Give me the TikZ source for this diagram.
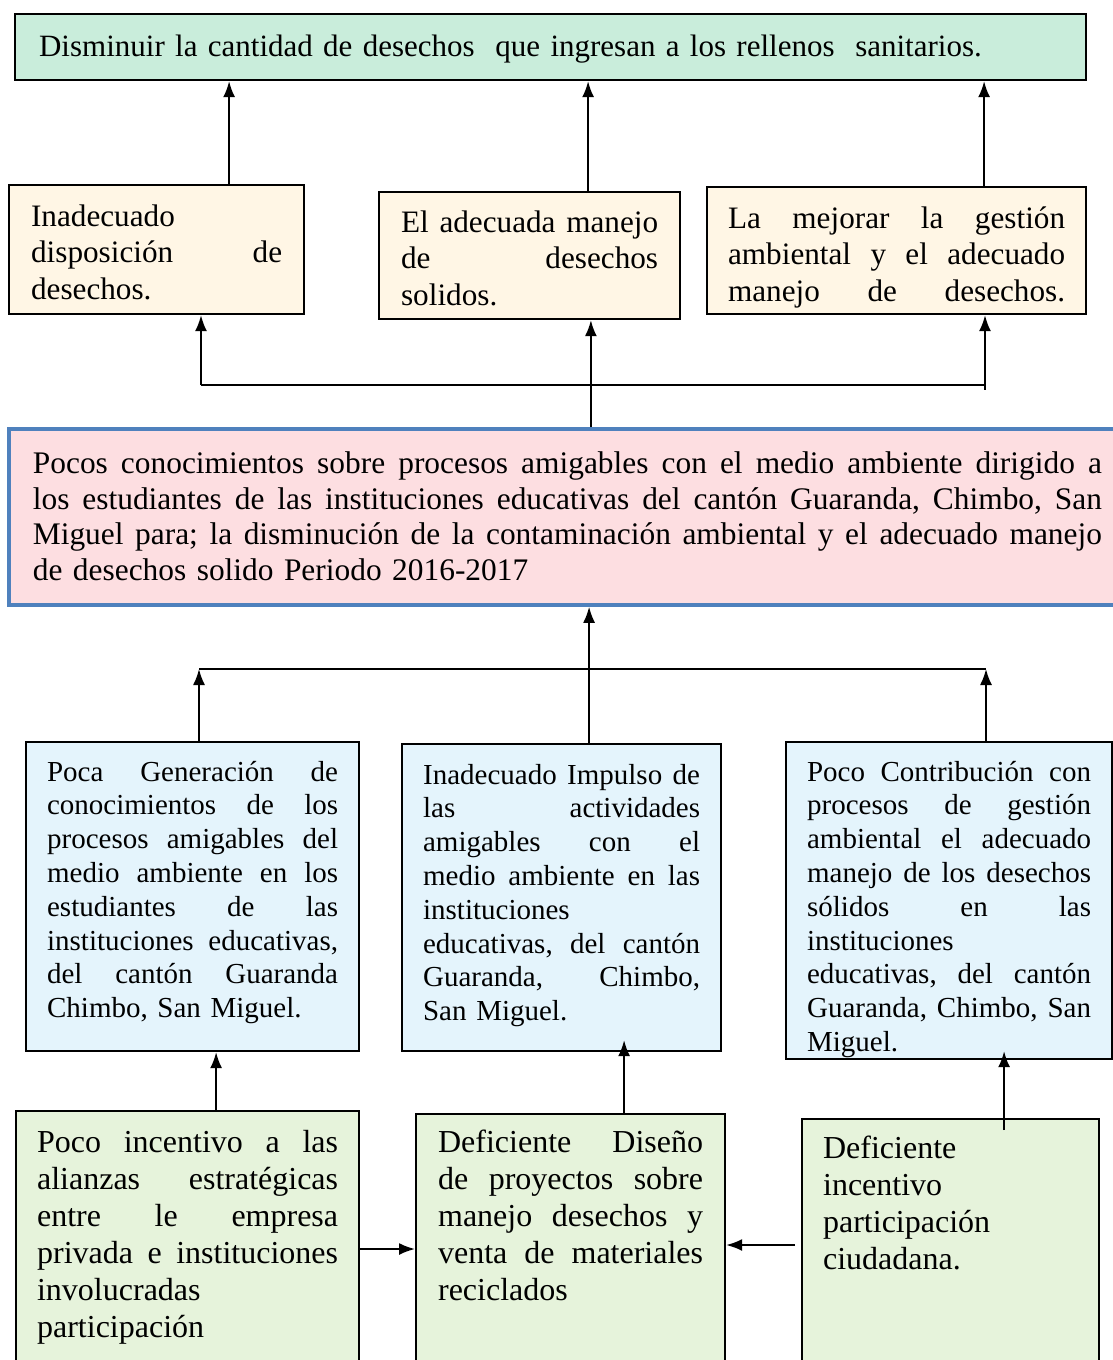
\documentclass[tikz,border=0pt]{standalone}
\usepackage{fontspec}
\setmainfont{Liberation Serif}
\usetikzlibrary{arrows.meta}

\definecolor{verdeFin}{RGB}{201,237,219}
\definecolor{crema}{RGB}{255,246,229}
\definecolor{rosa}{RGB}{253,222,225}
\definecolor{azulBorde}{RGB}{79,129,189}
\definecolor{celeste}{RGB}{228,244,252}
\definecolor{verdeClaro}{RGB}{230,243,219}

% una linea justificada
\newcommand{\jl}[1]{\leavevmode\hbox to\linewidth{\frenchspacing\spaceskip=0.25em plus 1fill minus 0.08em\relax #1}}

\begin{document}
\begin{tikzpicture}[x=1pt,
            y=-1pt,
            >={Latex[length=16pt,width=12pt]},
            line width=1.8pt,
            caja/.style={draw=black, line width=2.2pt, anchor=north west,
                         inner ysep=0pt, inner xsep=21pt},
            fin/.style={caja, fill=verdeFin, inner xsep=24pt,
                        font=\fontsize{31}{35}\selectfont},
            efecto/.style={caja, fill=crema, font=\fontsize{31.2}{36.5}\selectfont},
            problema/.style={caja, draw=azulBorde, line width=3.8pt, fill=rosa,
                             inner xsep=24pt, font=\fontsize{31.4}{35.5}\selectfont},
            causa/.style={caja, fill=celeste, font=\fontsize{29}{33.8}\selectfont},
            subcausa/.style={caja, fill=verdeClaro, font=\fontsize{32}{37}\selectfont}]

        \useasboundingbox (0,0) rectangle (1112,1360);

        \node[fin, text width=1023pt, text height=42pt, text depth=24pt]
            (fin) at (14,13) {Disminuir la cantidad de desechos\ \ que ingresan a los rellenos\ \ sanitarios.};

        \node[efecto, inner xsep=22pt, text width=251pt, text height=41pt, text depth=88pt]
            (e1) at (8,184) {Inadecuado\\ \jl{disposición de}\\ desechos.};
        \node[efecto, inner xsep=22pt, text width=257pt, text height=40pt, text depth=87pt]
            (e2) at (378,191) {\jl{El adecuada manejo}\\ \jl{de desechos}\\ solidos.};
        \node[efecto, text width=337pt, text height=41pt, text depth=86pt]
            (e3) at (706,186) {\jl{La mejorar la gestión}\\ \jl{ambiental y el adecuado}\\ \jl{manejo de desechos.}};

        \node[problema, text width=1069pt, text height=45pt, text depth=131pt]
            (prob) at (7,427) {\jl{Pocos conocimientos sobre procesos amigables con el medio ambiente dirigido a}\\
            \jl{los estudiantes de las instituciones educativas del cantón Guaranda, Chimbo, San}\\
            \jl{Miguel para; la disminución de la contaminación ambiental y el adecuado manejo}\\
            de desechos solido Periodo 2016-2017};

        \node[causa, text width=291pt, text height=39pt, text depth=270pt]
            (c1) at (25,741) {\jl{Poca Generación de}\\ \jl{conocimientos de los}\\ \jl{procesos amigables del}\\
            \jl{medio ambiente en los}\\ \jl{estudiantes de las}\\ \jl{instituciones educativas,}\\
            \jl{del cantón Guaranda}\\ Chimbo, San Miguel.};
        \node[causa, text width=277pt, text height=40pt, text depth=267pt]
            (c2) at (401,743) {\jl{Inadecuado Impulso de}\\ \jl{las actividades}\\ \jl{amigables con el}\\
            \jl{medio ambiente en las}\\ instituciones\\ \jl{educativas, del cantón}\\
            \jl{Guaranda, Chimbo,}\\ San Miguel.};
        \node[causa, text width=284pt, text height=39pt, text depth=278pt]
            (c3) at (785,741) {\jl{Poco Contribución con}\\ \jl{procesos de gestión}\\ \jl{ambiental el adecuado}\\
            \jl{manejo de los desechos}\\ \jl{sólidos en las}\\ instituciones\\
            \jl{educativas, del cantón}\\ \jl{Guaranda, Chimbo, San}\\ Miguel.};

        \node[subcausa, text width=301pt, text height=41pt, text depth=240pt]
            (s1) at (15,1110) {\jl{Poco incentivo a las}\\ \jl{alianzas estratégicas}\\ \jl{entre le empresa}\\
            \jl{privada e instituciones}\\ involucradas\\ participación};
        \node[subcausa, inner xsep=22pt, text width=265pt, text height=38pt, text depth=240pt]
            (s2) at (415,1113) {\jl{Deficiente Diseño}\\ \jl{de proyectos sobre}\\ \jl{manejo desechos y}\\
            \jl{venta de materiales}\\ reciclados};
        \node[subcausa, text width=255pt, text height=39pt, text depth=240pt]
            (s3) at (801,1118) {Deficiente\\ incentivo\\ participación\\ ciudadana.};

        % efectos hacia el fin
        \coordinate (a1) at ([xshift=72.5pt]e1.north);
        \coordinate (a2) at ([xshift=58.5pt]e2.north);
        \coordinate (a3) at ([xshift=87.5pt]e3.north);
        \foreach \p in {a1,a2,a3}
            \draw[->] (\p) -- (\p |- fin.south);

        % problema hacia los efectos
        \coordinate (t1) at ([xshift=23.5pt]prob.north);
        \draw[->] (t1) -- (t1 |- e2.south);
        \coordinate (r1) at (201,385);
        \coordinate (r3) at (985,385);
        \draw (r1) -- (r3) -- ++(0,5);
        \draw[->] (r1) -- (r1 |- e1.south);
        \draw[->] (r3) -- (r3 |- e3.south);

        % causas hacia el problema
        \coordinate (t2) at ([xshift=27.5pt]c2.north);
        \draw[->] (t2) -- (t2 |- prob.south);
        \coordinate (r4) at (199,669);
        \coordinate (r6) at (986,669);
        \draw (r4) -- (r6);
        \draw[->] (r4 |- c1.north) -- (r4);
        \draw[->] (r6 |- c3.north) -- (r6);

        % subcausas
        \coordinate (b1) at ([xshift=28.5pt]s1.north);
        \draw[->] (b1) -- (b1 |- c1.south);
        \coordinate (b2) at ([xshift=53.5pt]s2.north);
        \draw[->] (b2) -- ([yshift=12pt]b2 |- c2.south);
        \coordinate (b3) at ([xshift=53.5pt,yshift=-12pt]s3.north);
        \draw[->] (b3) -- ([yshift=9pt]b3 |- c3.south);
        \draw[->] ([yshift=-139pt]s1.north east) -- ([yshift=-139pt]s1.north east -| s2.west);
        \draw[->] ([xshift=-6pt,yshift=-127pt]s3.north west) -- ([yshift=-127pt]s3.north west -| s2.east);

\end{tikzpicture}
\end{document}
